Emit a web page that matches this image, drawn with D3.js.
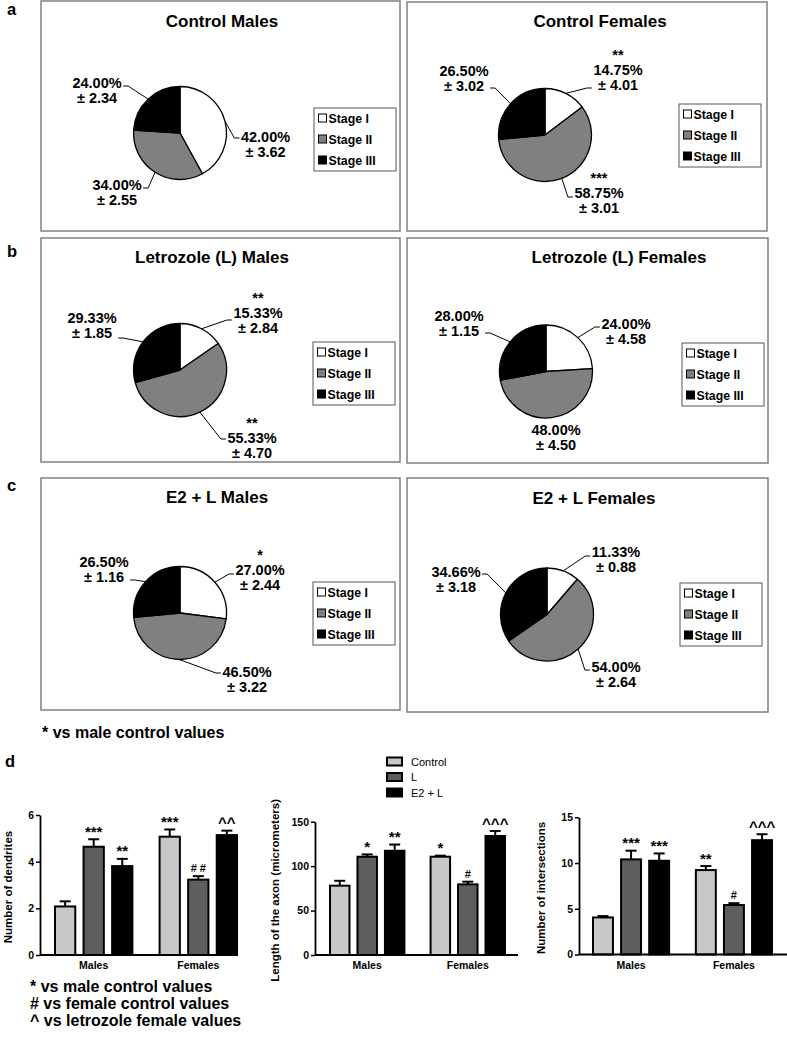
<!DOCTYPE html>
<html><head><meta charset="utf-8">
<script src="https://cdn.jsdelivr.net/npm/d3@7"></script>
<style>
body{margin:0;background:#fff}
svg{display:block}
text{font-family:"Liberation Sans",Arial,Helvetica,sans-serif;fill:#000}
</style>
</head><body>
<svg id="c" width="787" height="1041"></svg>
<script>
// ---------------- DATA ----------------
const stageNames = ["Stage I", "Stage II", "Stage III"];
const stageColors = ["#ffffff", "#808080", "#000000"];
const pieTitles = ["Control Males", "Control Females", "Letrozole (L) Males", "Letrozole (L) Females", "E2 + L Males", "E2 + L Females"];
const pieMeans = [[42.00, 34.00, 24.00], [14.75, 58.75, 26.50], [15.33, 55.33, 29.33], [24.00, 48.00, 28.00], [27.00, 46.50, 26.50], [11.33, 54.00, 34.66]];
const pieSems  = [[3.62, 2.55, 2.34], [4.01, 3.01, 3.02], [2.84, 4.70, 1.85], [4.58, 4.50, 1.15], [2.44, 3.22, 1.16], [0.88, 2.64, 3.18]];
const pieSig   = [["", "", ""], ["**", "***", ""], ["**", "**", ""], ["", "", ""], ["*", "", ""], ["", "", ""]];
const panelLetters = ["a", "b", "c", "d"];
const pieFootnote = "* vs male control values";

const groupNames = ["Males", "Females"];
const treatmentNames = ["Control", "L", "E2 + L"];
const treatmentColors = ["#c8c8c8", "#5e5e5e", "#000000"];
const dendriteMeans = [[2.08, 4.64, 3.81], [5.07, 3.23, 5.14]];
const dendriteSems  = [[0.22, 0.32, 0.31], [0.31, 0.15, 0.19]];
const dendriteSig   = [["", "***", "**"], ["***", "# #", "^^"]];
const dendriteTicks = [0, 2, 4, 6];
const axonMeans = [[78, 110.6, 117.3], [110.6, 79.5, 133.9]];
const axonSems  = [[5.5, 2.6, 7.0], [1.2, 3.0, 5.6]];
const axonSig   = [["", "*", "**"], ["*", "#", "^^^"]];
const axonTicks = [0, 50, 100, 150];
const interMeans = [[4.05, 10.4, 10.25], [9.23, 5.41, 12.5]];
const interSems  = [[0.15, 0.95, 0.8], [0.44, 0.2, 0.65]];
const interSig   = [["", "***", "***"], ["**", "#", "^^^"]];
const interTicks = [0, 5, 10, 15];
const barTitles = ["Number of dendrites", "Length of the axon (micrometers)", "Number of intersections"];
const barFootnotes = ["* vs male control values", "# vs female control values", "^ vs letrozole female values"];

// ---------------- LAYOUT ----------------
const panelBoxes = [[41,1,359,230],[407,2,360,229],[41,238,359,224],[407,238,361,225],[41,478,359,232],[407,478,361,234]];
const pieCenters = [[139,132],[138,133],[139,132],[139,133.5],[139,135],[140,136.5]];
const titlePos   = [[181,26],[193,25],[171,25],[212,25],[176,25],[187,26]];
const legendPos  = [[273,107],[272,102],[272,104],[275,105],[272,104],[273,105]];
// per stage: [dx of label centre, dy of % baseline, attach dy (null = no leader)]
const labelPos = [
  [[85.5,9,-4],[-63,57,-2],[-83,-45,-2]],
  [[73,-60,13],[54,63,-1],[-81,-59,12]],
  [[78,-52,2],[72,73,-4],[-88,-47,15]],
  [[80,-42.5,-2],[10,63.5,null],[-87,-50.5,12]],
  [[80,-38,-1],[67,64,-4],[-76,-46,13]],
  [[69,-57.5,-1],[69,57.5,-2],[-91,-37.5,-3]]
];
const letterPos = [[7,14.5],[7,257],[7,491],[5,767]];
const R = 46.5;
const LH = 15;

const svg = d3.select("#c");

svg.selectAll("text.letter").data(panelLetters).join("text")
  .attr("class","letter")
  .attr("x",(d,i)=>letterPos[i][0]).attr("y",(d,i)=>letterPos[i][1])
  .attr("font-size",16.5).attr("font-weight","bold").text(d=>d);

// ---------------- PIE PANELS ----------------
const pie = d3.pie().sort(null).value(d=>d).startAngle(0).endAngle(2*Math.PI);
const arc = d3.arc().innerRadius(0).outerRadius(R);

pieTitles.forEach((title, p) => {
  const [bx, by, bw, bh] = panelBoxes[p];
  const g = svg.append("g").attr("transform", `translate(${bx},${by})`);
  g.append("rect").attr("x",0).attr("y",0).attr("width",bw).attr("height",bh)
    .attr("fill","#fff").attr("stroke","#808080").attr("stroke-width",1.5);
  g.append("text").attr("x",titlePos[p][0]).attr("y",titlePos[p][1])
    .attr("text-anchor","middle").attr("font-size",17).attr("font-weight","bold").text(title);

  const [cx, cy] = pieCenters[p];
  const pg = g.append("g").attr("transform", `translate(${cx},${cy})`);
  const arcs = pie(pieMeans[p]);
  pg.selectAll("path").data(arcs).join("path")
    .attr("d", arc).attr("fill",(d,i)=>stageColors[i])
    .attr("stroke","#000").attr("stroke-width",1.3).attr("stroke-linejoin","round");

  arcs.forEach((a, i) => {
    const [dx, dy, att] = labelPos[p][i];
    const lines = [];
    if (pieSig[p][i]) lines.push({t: pieSig[p][i], o: -LH});
    lines.push({t: pieMeans[p][i].toFixed(2) + "%", o: 0});
    lines.push({t: "\u00B1 " + pieSems[p][i].toFixed(2), o: LH});
    const lg = pg.append("g");
    const texts = lg.selectAll("text").data(lines).join("text")
      .attr("x", dx).attr("y", d => dy + d.o)
      .attr("text-anchor","middle").attr("font-size",14.5).attr("font-weight","bold")
      .text(d => d.t);
    if (att === null) return;
    let w = 0;
    texts.each(function(d){ if (d.o >= 0) w = Math.max(w, this.getComputedTextLength()); });
    const mid = (a.startAngle + a.endAngle) / 2;
    const sx = R * Math.sin(mid), sy = -R * Math.cos(mid);
    const ay = dy + att;
    let ex, kx;
    if (dx > 0) { ex = dx - w/2 - 1.5; kx = ex - 5; }
    else { ex = dx + w/2 + 1.5; kx = ex + 5; }
    lg.append("path").attr("d", d3.line()([[sx,sy],[kx,ay],[ex,ay]]))
      .attr("fill","none").attr("stroke","#000").attr("stroke-width",1);
  });

  const [lx, ly] = legendPos[p];
  const leg = g.append("g").attr("transform", `translate(${lx},${ly})`);
  leg.append("rect").attr("width",82).attr("height",63).attr("fill","#fff")
    .attr("stroke","#555").attr("stroke-width",1);
  const items = leg.selectAll("g.it").data(stageNames).join("g").attr("class","it")
    .attr("transform",(d,i)=>`translate(0,${14.5 + i*21})`);
  items.append("rect").attr("x",4.5).attr("y",-8.5).attr("width",8).attr("height",8)
    .attr("fill",(d,i)=>stageColors[i]).attr("stroke","#000").attr("stroke-width",1);
  items.append("text").attr("x",14.5).attr("y",0).attr("font-size",12.3).attr("font-weight","bold").text(d=>d);
});

svg.append("text").attr("x",42).attr("y",738).attr("font-size",16).attr("font-weight","bold").text(pieFootnote);

// ---------------- BAR CHARTS ----------------
const barData = [
  {means: dendriteMeans, sems: dendriteSems, sig: dendriteSig, ticks: dendriteTicks},
  {means: axonMeans, sems: axonSems, sig: axonSig, ticks: axonTicks},
  {means: interMeans, sems: interSems, sig: interSig, ticks: interTicks}
];
const chartLayouts = [
  {axisX: 40, axisEnd: 238, y0: 955, y1: 815, bars: [55, 237], titleX: 12},
  {axisX: 315, axisEnd: 518, y0: 955, y1: 821.7, bars: [330, 505], titleX: 279},
  {axisX: 579, axisEnd: 787, y0: 954.5, y1: 817.3, bars: [593, 772], titleX: 545}
];

barData.forEach((c, ci) => {
  const L = chartLayouts[ci];
  const y = d3.scaleLinear().domain([0, d3.max(c.ticks)]).range([L.y0, L.y1]);
  const xg = d3.scaleBand().domain(groupNames).range(L.bars).paddingInner(0.26).paddingOuter(0);
  const xt = d3.scaleBand().domain(treatmentNames).range([0, xg.bandwidth()]).paddingInner(0.29).paddingOuter(0);
  const g = svg.append("g");

  const rows = [];
  groupNames.forEach((gn, gi) => treatmentNames.forEach((tn, ti) => rows.push({
    g: gn, t: tn, ti, v: c.means[gi][ti], s: c.sems[gi][ti], sig: c.sig[gi][ti]
  })));
  const bx = d => xg(d.g) + xt(d.t);
  const bw = xt.bandwidth();

  g.selectAll("line.err").data(rows).join("line").attr("class","err")
    .attr("x1", d => bx(d) + bw/2).attr("x2", d => bx(d) + bw/2)
    .attr("y1", d => y(d.v)).attr("y2", d => y(d.v + d.s))
    .attr("stroke","#000").attr("stroke-width",2);
  g.selectAll("line.cap").data(rows).join("line").attr("class","cap")
    .attr("x1", d => bx(d) + bw/2 - 5.5).attr("x2", d => bx(d) + bw/2 + 5.5)
    .attr("y1", d => y(d.v + d.s)).attr("y2", d => y(d.v + d.s))
    .attr("stroke","#000").attr("stroke-width",2);
  g.selectAll("rect.bar").data(rows).join("rect").attr("class","bar")
    .attr("x", bx).attr("y", d => y(d.v)).attr("width", bw).attr("height", d => y(0) - y(d.v))
    .attr("fill", d => treatmentColors[d.ti]).attr("stroke","#000").attr("stroke-width",2);
  g.selectAll("text.sig").data(rows.filter(d => d.sig)).join("text").attr("class","sig")
    .attr("x", d => bx(d) + bw/2)
    .attr("y", d => d.sig.includes("#") ? y(d.v + d.s) - 4 : y(d.v + d.s) - 2.5)
    .attr("text-anchor","middle").attr("font-weight","bold")
    .attr("font-size", d => d.sig.includes("#") ? 11 : 15)
    .text(d => d.sig);

  const ax = g.append("g").attr("transform", `translate(${L.axisX},0)`)
    .call(d3.axisLeft(y).tickValues(c.ticks).tickFormat(d3.format("d")).tickSize(4).tickSizeOuter(0).tickPadding(2));
  ax.select(".domain").attr("stroke","#000").attr("stroke-width",1.8);
  ax.selectAll(".tick line").attr("stroke","#000").attr("stroke-width",1.5);
  ax.selectAll(".tick text").attr("font-size",10.5).attr("font-weight","bold")
    .attr("font-family","'Liberation Sans',Arial,sans-serif").attr("fill","#000");

  g.append("line").attr("x1", L.axisX).attr("x2", L.axisEnd).attr("y1", y(0)).attr("y2", y(0))
    .attr("stroke","#000").attr("stroke-width",1.8);
  g.selectAll("text.grp").data(groupNames).join("text").attr("class","grp")
    .attr("x", d => xg(d) + xg.bandwidth()/2).attr("y", y(0) + 14)
    .attr("text-anchor","middle").attr("font-size",10.5).attr("font-weight","bold").text(d => d);

  g.append("text").attr("transform", `translate(${L.titleX},${(L.y0 + L.y1)/2 + 2}) rotate(-90)`)
    .attr("text-anchor","middle").attr("font-size",11.5).attr("font-weight","bold").text(barTitles[ci]);
});

const dleg = svg.append("g").attr("transform","translate(387,761.5)");
const dItems = dleg.selectAll("g").data(treatmentNames).join("g")
  .attr("transform",(d,i)=>`translate(0,${i*15.5})`);
dItems.append("rect").attr("x",0).attr("y",-4).attr("width",15).attr("height",8)
  .attr("fill",(d,i)=>treatmentColors[i]).attr("stroke","#000").attr("stroke-width",2);
dItems.append("text").attr("x",24).attr("y",4).attr("font-size",11).text(d=>d);

svg.selectAll("text.fn").data(barFootnotes).join("text").attr("class","fn")
  .attr("x",30).attr("y",(d,i)=>992 + i*17).attr("font-size",16).attr("font-weight","bold").text(d=>d);
</script>
</body></html>
